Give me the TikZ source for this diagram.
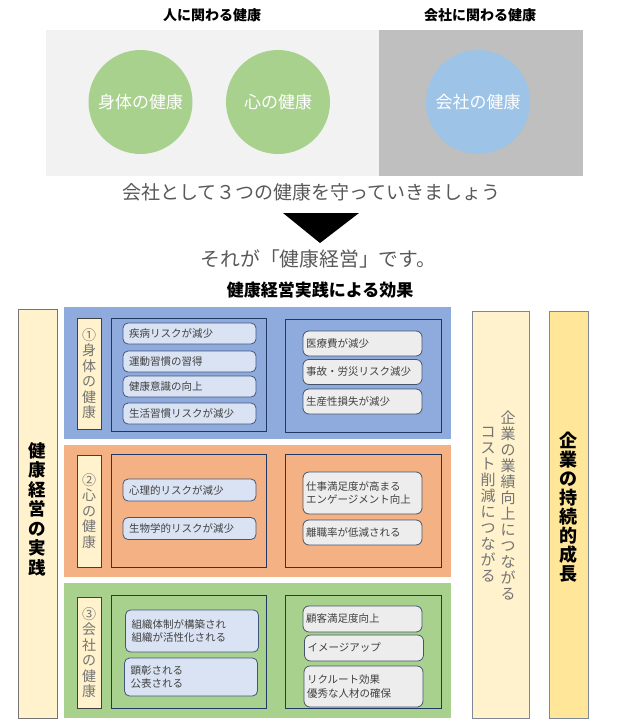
\documentclass[tikz,border=0pt]{standalone}
\usepackage{fontspec}
\setmainfont{Noto Sans CJK JP}
\definecolor{lightbg}{HTML}{F2F2F2}
\definecolor{darkbg}{HTML}{BFBFBF}
\definecolor{greenc}{HTML}{A9D18E}
\definecolor{bluec}{HTML}{9DC3E6}
\definecolor{msggray}{HTML}{595959}
\definecolor{secblue}{HTML}{8FAADC}
\definecolor{secorange}{HTML}{F4B183}
\definecolor{secgreen}{HTML}{A9D18E}
\definecolor{paleyel}{HTML}{FFF2CC}
\definecolor{goldyel}{HTML}{FFE699}
\definecolor{navy}{HTML}{203864}
\definecolor{itemblue}{HTML}{DAE3F3}
\definecolor{itemgray}{HTML}{EDEDED}
\definecolor{slate}{HTML}{44546A}
\definecolor{txtgray}{HTML}{404040}
\definecolor{labgray}{HTML}{747474}

\begin{document}
\begin{tikzpicture}[x=1pt,y=-1pt]
			\useasboundingbox (0,0) rectangle (626,726);
			\tikzstyle{every node} = [inner sep=0pt, outer sep=0pt]
			\tikzstyle{head} = [font=\fontsize{14}{16}\selectfont\bfseries]
			\tikzstyle{health} = [circle, minimum size=104, text=white, font=\fontsize{17}{19}\selectfont]
			\tikzstyle{msg} = [text=msggray, font=\fontsize{19}{21}\selectfont]
			\tikzstyle{sec} = [minimum width=387]
			\tikzstyle{lab} = [draw=txtgray, fill=paleyel, minimum width=24, text=labgray, align=center, font=\fontsize{14}{15.5}\selectfont]
			\tikzstyle{frame} = [draw=navy, line width=0.8pt, minimum height=113]
			\tikzstyle{litem} = [draw=navy!85, fill=itemblue, line width=0.8pt, rounded corners=5, text width=121, inner xsep=6, align=left, text=txtgray, font=\fontsize{10.5}{13.5}\selectfont]
			\tikzstyle{ritem} = [draw=slate, fill=itemgray, line width=0.8pt, rounded corners=6, text width=113, inner xsep=3, align=left, text=txtgray, font=\fontsize{10.5}{13.5}\selectfont]
			\tikzstyle{col} = [draw=slate!70, minimum height=407, line width=0.8pt]

			% upper half
			\node[head] (ttl1) at (212, 15) {人に関わる健康};
			\node[head] (ttl2) at (480, 15) {会社に関わる健康};
			\node[fill=lightbg, minimum width=333, minimum height=146] (bgl) at (212.5, 103) {};
			\node[fill=darkbg, minimum width=204, minimum height=146] (bgr) at (481, 103) {};
			\node[health, fill=greenc] (body) at (140.5, 102) {身体の健康};
			\node[health, fill=greenc] (mind) at (278, 102) {心の健康};
			\node[health, fill=bluec] (corp) at (478, 102) {会社の健康};
			\node[msg] (msg1) at (311.5, 192) {会社として３つの健康を守っていきましょう};
			\fill (283, 213) -- (359, 213) -- (320, 243) -- cycle;
			\node[msg, font=\fontsize{19.8}{21}\selectfont] (msg2) at (318.5, 259) {それが「健康経営」です。};
			\node[font=\fontsize{17}{19}\selectfont\bfseries] (eff) at (320, 290) {健康経営実践による効果};

			% lower half
			\node[draw=labgray, fill=paleyel, minimum width=39, minimum height=409, line width=0.8pt] (prac) at (37.5, 513.5) {};
			\node[align=center, font=\fontsize{17.5}{19.5}\selectfont\bfseries] (pract) at (37.5, 509)
				{健\\康\\経\\営\\の\\実\\践};

			\node[sec, fill=secblue, minimum height=132] (seca) at (257.5, 373) {};
			\node[sec, fill=secorange, minimum height=132] (secb) at (257.5, 511) {};
			\node[sec, fill=secgreen, minimum height=135] (secc) at (257.5, 650.5) {};

			\node[lab, minimum height=111] (laba) at (89, 373.5) {①\\身\\体\\の\\健\\康};
			\node[lab, minimum height=112] (labb) at (89, 511) {②\\心\\の\\健\\康};
			\node[lab, minimum height=111] (labc) at (89, 652.5) {③\\会\\社\\の\\健\\康};

			\node[frame, minimum width=155] (ina1) at (188.5, 374.5) {};
			\node[frame, minimum width=156] (ina2) at (363, 375.5) {};
			\node[frame, minimum width=155] (inb1) at (188.5, 510.5) {};
			\node[frame, minimum width=156] (inb2) at (363, 510.5) {};
			\node[frame, minimum width=155] (inc1) at (188.5, 651.5) {};
			\node[frame, minimum width=156] (inc2) at (363, 651.5) {};

			\foreach \y/\t [count=\i] in {333.5/疾病リスクが減少, 361.5/運動習慣の習得, 386.5/健康意識の向上, 413.5/生活習慣リスクが減少}
			\node[litem, minimum height=21] (a\i) at (189.5, \y) {\t};
			\foreach \y/\t [count=\i] in {343.5/医療費が減少, 372/事故・労災リスク減少, 401.5/生産性損失が減少}
			\node[ritem, minimum height=25] (ra\i) at (362.5, \y) {\t};

			\node[litem, minimum height=22] (b1) at (189.5, 490) {心理的リスクが減少};
			\node[litem, minimum height=22] (b2) at (189.5, 528.5) {生物学的リスクが減少};
			\node[ritem, minimum height=42] (rb1) at (362.5, 493) {仕事満足度が高まる\\エンゲージメント向上};
			\node[ritem, minimum height=25] (rb2) at (362.5, 532.5) {離職率が低減される};

			\node[litem, minimum height=42] (c1) at (192, 631) {組織体制が構築され\\組織が活性化される};
			\node[litem, minimum height=38] (c2) at (191, 677) {顕彰される\\公表される};
			\node[ritem, minimum height=26] (rc1) at (362.5, 619) {顧客満足度向上};
			\node[ritem, minimum height=26] (rc2) at (364, 648) {イメージアップ};
			\node[ritem, minimum height=41] (rc3) at (363.5, 686.5) {リクルート効果\\優秀な人材の確保};

			% results
			\node[col, fill=paleyel, minimum width=57] (res1) at (500.5, 514.5) {};
			\node[align=center, text=labgray, font=\fontsize{15}{16}\selectfont] (res1a) at (508, 505)
				{企\\業\\の\\業\\績\\向\\上\\に\\つ\\な\\が\\る};
			\node[align=center, text=labgray, font=\fontsize{15}{16}\selectfont] (res1b) at (488, 505)
				{コ\\ス\\ト\\削\\減\\に\\つ\\な\\が\\る};
			\node[col, fill=goldyel, minimum width=39] (res2) at (568.5, 514.5) {};
			\node[align=center, font=\fontsize{18}{19}\selectfont\bfseries] (res2a) at (568.5, 507)
				{企\\業\\の\\持\\続\\的\\成\\長};
			\end{tikzpicture}
\end{document}
